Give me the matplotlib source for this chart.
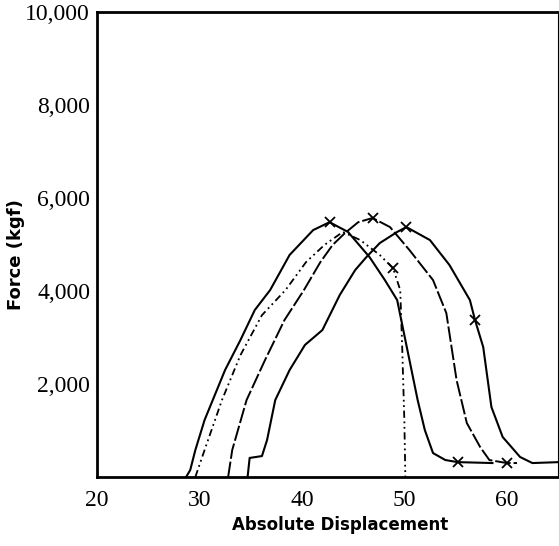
import matplotlib.pyplot as plt

# curves
a_x = [28.7, 29.1, 29.6, 30.5, 31.3, 32.5, 34.0, 35.4, 36.9, 38.8, 41.1, 42.7,
       44.5, 46.6, 48.1, 49.3, 49.9, 50.5, 51.3, 52.0, 52.8, 54.0, 55.2, 58.6]
a_f = [0, 150, 580, 1225, 1655, 2300, 2945, 3590, 4020, 4775, 5310, 5480,
       5270, 4730, 4235, 3805, 3160, 2515, 1655, 1010, 515, 365, 320, 300]

b_x = [29.6, 30.5, 32.2, 34.0, 36.1, 38.4, 40.4, 42.2, 44.0, 45.7, 47.6, 48.9,
       49.6, 49.8, 50.0, 50.1]
b_f = [0, 580, 1655, 2620, 3480, 4020, 4620, 4990, 5270, 5095, 4775, 4490,
       4020, 2730, 1225, 0]

c_x = [32.8, 33.2, 34.6, 36.4, 38.3, 40.2, 41.8, 43.0, 44.2, 45.5, 46.9, 48.6,
       50.5, 52.8, 54.1, 55.1, 56.1, 57.4, 58.3, 60.0, 61.0]
c_f = [0, 580, 1655, 2515, 3375, 4020, 4620, 4990, 5245, 5480, 5570, 5375,
       4880, 4235, 3525, 2085, 1160, 645, 365, 300, 300]

d_x = [34.7, 34.9, 35.5, 36.1, 36.6, 37.4, 38.8, 40.3, 42.0, 43.7, 45.2, 46.3,
       47.6, 49.3, 50.2, 52.5, 54.4, 56.4, 56.9, 57.7, 58.5, 59.6, 61.3, 62.5, 65.1]
d_f = [0, 410, 430, 450, 795, 1655, 2300, 2840, 3160, 3915, 4450, 4730,
       5030, 5270, 5375, 5095, 4560, 3805, 3375, 2795, 1505, 860, 430, 300, 320]

# x marks on the curves
mark_x = [42.7, 55.2, 48.9, 46.9, 60.0, 50.2, 56.9]
mark_f = [5480, 320, 4490, 5570, 300, 5375, 3375]

yticks = [2000, 4000, 6000, 8000, 10000]
ylabels = ['2,000', '4,000', '6,000', '8,000', '10,000']
xticks = [20, 30, 40, 50, 60]

fig = plt.figure(figsize=(5.59, 5.46), dpi=100)
ax = fig.add_axes([97 / 559, 1 - 477 / 546, 461 / 559, 465 / 546])

ax.plot(a_x, a_f, color='black', lw=1.5)
ax.plot(b_x, b_f, color='black', lw=1.3, linestyle=(0, (4, 2, 1, 2, 1, 2)))
ax.plot(c_x, c_f, color='black', lw=1.4, linestyle=(0, (8, 1.5)))
ax.plot(d_x, d_f, color='black', lw=1.5)
ax.plot(mark_x, mark_f, 'x', color='black', ms=7, mew=1.3)

ax.set_xlim(20, 65.0)
ax.set_ylim(0, 10000)
ax.set_yticks(yticks)
ax.set_yticklabels(ylabels)
ax.set_xticks(xticks)
ax.tick_params(length=0, labelsize=17, pad=5)
for lab in ax.get_xticklabels() + ax.get_yticklabels():
    lab.set_family('Liberation Serif')
ax.tick_params(axis='x', pad=9)

for side in ['left', 'bottom', 'top']:
    ax.spines[side].set_linewidth(2)
ax.spines['right'].set_linewidth(0.8)

ax.set_xlabel('Absolute Displacement', fontsize=12, fontweight='bold')
ax.xaxis.set_label_coords((340 - 97) / 461, -(516 - 477) / 465)
ax.set_ylabel('Force (kgf)', fontsize=13, fontweight='bold')
ax.yaxis.set_label_coords(-(97 - 25) / 461, (477 - 255) / 465)

fig.savefig('out.png', dpi=100)
